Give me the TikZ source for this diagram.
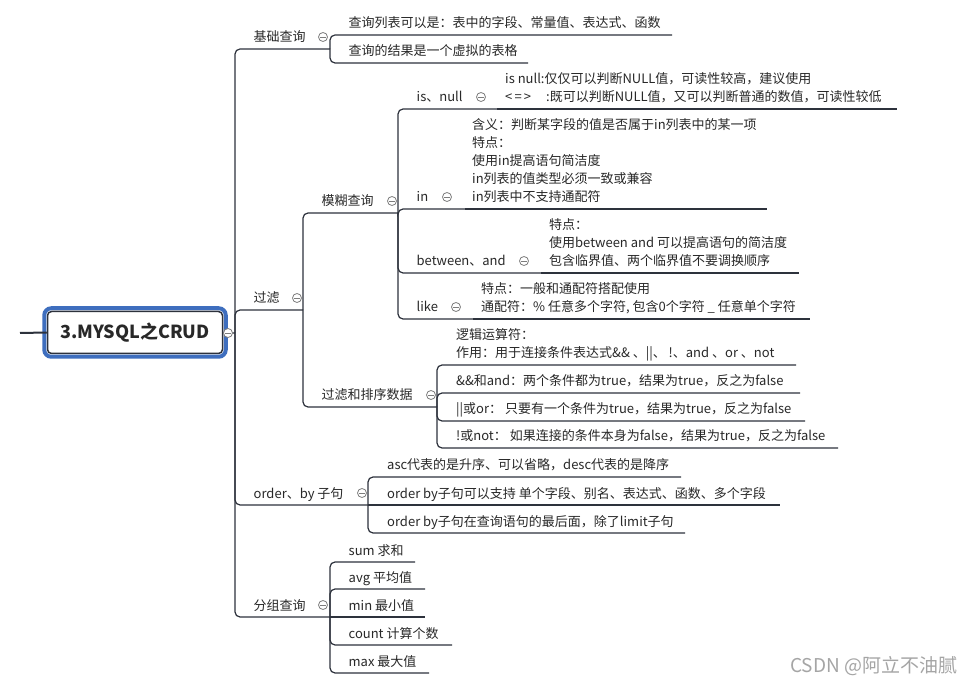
\documentclass[tikz,border=0pt]{standalone}
\usepackage{fontspec}
\setmainfont{Noto Sans CJK SC}
\usetikzlibrary{calc}
\definecolor{linec}{RGB}{45,50,60}
\definecolor{txtc}{RGB}{40,40,40}
\definecolor{rootblue}{RGB}{62,110,190}
\definecolor{knobc}{RGB}{125,125,125}
\definecolor{wmc}{RGB}{165,165,165}
\begin{document}
\begin{tikzpicture}[x=1pt,y=-1pt,
  conn/.style={draw=linec,line width=1.2pt,rounded corners=5pt},
  topic/.style={anchor=base west,inner sep=0pt,text=txtc,font=\fontsize{13}{18}\selectfont,align=left},
  knob/.style={circle,draw=knobc,fill=white,line width=0.8pt,minimum size=9pt,inner sep=0pt,
    path picture={\draw[knobc,line width=0.8pt] ([xshift=-2.6pt]path picture bounding box.center) -- ([xshift=2.6pt]path picture bounding box.center);}},
  rootbox/.style={rectangle,draw=linec,line width=1.5pt,rounded corners=4pt,fill=white,
    minimum width=175pt,minimum height=42pt,inner sep=0pt,text=txtc,font=\fontsize{18}{20}\selectfont\bfseries},
  stubline/.style={draw=linec,line width=2pt}
]
\useasboundingbox (0,0) rectangle (975,684);
\fill[white] (0,0) rectangle (975,684);

% root
\node[rootbox] (root) at (135,332.5) {3.MYSQL之CRUD};
\draw[rootblue,line width=4pt,rounded corners=7pt] ($(root.north west)+(-2.5,-2.5)$) rectangle ($(root.south east)+(2.5,2.5)$);
\coordinate (stub) at (20,333);
\draw[stubline] (stub) -- (root.west);

% junction / underline coordinates
\coordinate (rootJ) at (235,333);
\coordinate (n1e) at (330,49);
\coordinate (n2e) at (303,310);
\coordinate (n3e) at (368,505);
\coordinate (n4e) at (330,617);
\coordinate (a1e) at (672,35);
\coordinate (a2e) at (528,63);
\coordinate (b1e) at (398,213);
\coordinate (b2e) at (437,407);
\coordinate (c1e) at (497,109);
\coordinate (c2e) at (465,209);
\coordinate (c3e) at (541,273);
\coordinate (c4e) at (473,319);
\coordinate (c1x) at (897,109);
\coordinate (c2x) at (767,209);
\coordinate (c3x) at (799,273);
\coordinate (c4x) at (810,319);
\coordinate (d1e) at (796,365);
\coordinate (d2e) at (800,393);
\coordinate (d3e) at (805,421);
\coordinate (d4e) at (838,448);
\coordinate (e1e) at (681,477);
\coordinate (e2e) at (780,505);
\coordinate (e3e) at (685,533);
\coordinate (f1e) at (415,562);
\coordinate (f2e) at (425,589);
\coordinate (f3e) at (425,617);
\coordinate (f4e) at (452,645);
\coordinate (f5e) at (429,673);

% connectors
\draw[conn] (root.east) -- (rootJ);
\draw[conn] (rootJ) |- (n1e);
\draw[conn] (rootJ) |- (n2e);
\draw[conn] (rootJ) |- (n3e);
\draw[conn] (rootJ) |- (n4e);
\draw[conn] (n1e) |- (a1e);
\draw[conn] (n1e) |- (a2e);
\draw[conn] (n2e) |- (b1e);
\draw[conn] (n2e) |- (b2e);
\draw[conn] (b1e) |- (c1e);
\draw[conn] (b1e) |- (c2e);
\draw[conn] (b1e) |- (c3e);
\draw[conn] (b1e) |- (c4e);
\draw[conn] (c1e) -- (c1x);
\draw[conn] (c2e) -- (c2x);
\draw[conn] (c3e) -- (c3x);
\draw[conn] (c4e) -- (c4x);
\draw[conn] (b2e) |- (d1e);
\draw[conn] (b2e) |- (d2e);
\draw[conn] (b2e) |- (d3e);
\draw[conn] (b2e) |- (d4e);
\draw[conn] (n3e) |- (e1e);
\draw[conn] (n3e) -- (e2e);
\draw[conn] (n3e) |- (e3e);
\draw[conn] (n4e) |- (f1e);
\draw[conn] (n4e) |- (f2e);
\draw[conn] (n4e) -- (f3e);
\draw[conn] (n4e) |- (f4e);
\draw[conn] (n4e) |- (f5e);

% knobs
\node[knob] (k0) at (228,333) {};
\node[knob] (k1) at (323,37) {};
\node[knob] (k2) at (297,298) {};
\node[knob] (k3) at (362,493) {};
\node[knob] (k4) at (323,605) {};
\node[knob] (kb1) at (392,201) {};
\node[knob] (kb2) at (431,395) {};
\node[knob] (kc1) at (481,97) {};
\node[knob] (kc2) at (447,197) {};
\node[knob] (kc3) at (524,261) {};
\node[knob] (kc4) at (456,307) {};

% texts
\node[topic] (n1) at (253.5,42) {基础查询};
\node[topic] (n2) at (253.5,303) {过滤};
\node[topic] (n3) at (253.5,498) {order、by 子句};
\node[topic] (n4) at (253.5,610) {分组查询};
\node[topic] (a1) at (348.5,28) {查询列表可以是：表中的字段、常量值、表达式、函数};
\node[topic] (a2) at (348.5,56) {查询的结果是一个虚拟的表格};
\node[topic] (b1) at (321.5,206) {模糊查询};
\node[topic] (b2) at (321.5,400) {过滤和排序数据};
\node[topic] (c1) at (416.5,102) {is、null};
\node[topic] (c2) at (416.5,202) {in};
\node[topic] (c3) at (416.5,266) {between、and};
\node[topic] (c4) at (416.5,312) {like};
\node[topic] (c1t) at (505,102) {is null:仅仅可以判断NULL值，可读性较高，建议使用\\<\,=\,>\hspace{15pt}:既可以判断NULL值，又可以判断普通的数值，可读性较低};
\node[topic] (c2t) at (472,202) {含义：判断某字段的值是否属于in列表中的某一项\\特点：\\使用in提高语句简洁度\\in列表的值类型必须一致或兼容\\in列表中不支持通配符};
\node[topic] (c3t) at (549,266) {特点：\\使用between and 可以提高语句的简洁度\\包含临界值、两个临界值不要调换顺序};
\node[topic] (c4t) at (481,312) {特点：一般和通配符搭配使用\\通配符：\% 任意多个字符, 包含0个字符 \_ 任意单个字符};
\node[topic] (d1) at (456,358) {逻辑运算符：\\作用：用于连接条件表达式\&\& 、||、 !、and 、or 、not};
\node[topic] (d2) at (456,386) {\&\&和and：两个条件都为true，结果为true，反之为false};
\node[topic] (d3) at (456,414) {||或or： 只要有一个条件为true，结果为true，反之为false};
\node[topic] (d4) at (456,441) {!或not： 如果连接的条件本身为false，结果为true，反之为false};
\node[topic] (e1) at (387,470) {asc代表的是升序、可以省略，desc代表的是降序};
\node[topic] (e2) at (387,498) {order by子句可以支持 单个字段、别名、表达式、函数、多个字段};
\node[topic] (e3) at (387,526) {order by子句在查询语句的最后面，除了limit子句};
\node[topic] (f1) at (348.5,555) {sum 求和};
\node[topic] (f2) at (348.5,582) {avg 平均值};
\node[topic] (f3) at (348.5,610) {min 最小值};
\node[topic] (f4) at (348.5,638) {count 计算个数};
\node[topic] (f5) at (348.5,666) {max 最大值};

% watermark
\node[anchor=base west,inner sep=0pt,text=wmc,font=\fontsize{19}{22}\selectfont] (wm) at (790,672) {CSDN @阿立不油腻};
\end{tikzpicture}
\end{document}
